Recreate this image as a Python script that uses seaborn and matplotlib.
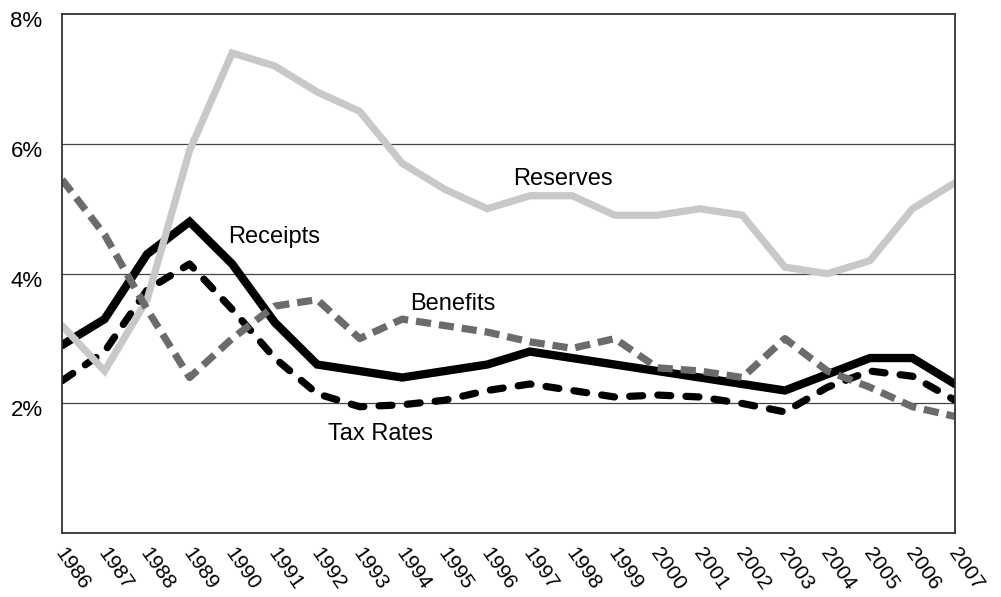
import matplotlib
matplotlib.use("Agg")
import matplotlib.pyplot as plt
import matplotlib.transforms as mtransforms
import seaborn as sns

years = list(range(1986, 2008))
reserves = [3.2, 2.5, 3.6, 5.9, 7.4, 7.2, 6.8, 6.5, 5.7, 5.3, 5.0,
            5.2, 5.2, 4.9, 4.9, 5.0, 4.9, 4.1, 4.0, 4.2, 5.0, 5.4]
receipts = [2.9, 3.3, 4.3, 4.8, 4.15, 3.25, 2.6, 2.5, 2.4, 2.5, 2.6,
            2.8, 2.7, 2.6, 2.5, 2.4, 2.3, 2.2, 2.45, 2.7, 2.7, 2.3]
benefits = [5.45, 4.6, 3.45, 2.4, 3.0, 3.5, 3.6, 3.0, 3.3, 3.2, 3.1,
            2.95, 2.85, 3.0, 2.55, 2.5, 2.4, 3.0, 2.5, 2.25, 1.95, 1.8]
tax_rates = [2.35, 2.8, 3.75, 4.15, 3.45, 2.7, 2.15, 1.95, 1.98, 2.05, 2.2,
             2.3, 2.2, 2.1, 2.13, 2.1, 2.0, 1.87, 2.25, 2.5, 2.42, 2.05]
y_ticks = [2, 4, 6, 8]
y_tick_labels = ["2%", "4%", "6%", "8%"]


def main():
    sns.set_style("white")
    plt.rcParams["font.family"] = ["Liberation Sans", "DejaVu Sans"]
    plt.rcParams["text.color"] = "black"
    plt.rcParams["xtick.color"] = "black"
    plt.rcParams["ytick.color"] = "black"

    fig = plt.figure(figsize=(10.01, 5.97), dpi=100)
    ax = fig.add_axes([0.062, 0.1067, 0.892, 0.8698])

    for y in y_ticks[:-1]:
        ax.axhline(y, color="#444444", lw=0.9, zorder=1)

    sns.lineplot(x=years, y=receipts, ax=ax, color="black", lw=6.0, zorder=3)
    ax.lines[-1].set_solid_joinstyle("miter")

    sns.lineplot(x=years, y=tax_rates, ax=ax, color="black", lw=5.2, zorder=4)
    ax.lines[-1].set_dashes((1.8, 2.1))
    ax.lines[-1].set_dash_capstyle("round")

    sns.lineplot(x=years, y=reserves, ax=ax, color="#c8c8c8", lw=5.2, zorder=5)
    ax.lines[-1].set_solid_joinstyle("miter")

    sns.lineplot(x=years, y=benefits, ax=ax, color="#6b6b6b", lw=5.2, zorder=6)
    ax.lines[-1].set_dashes((2.1, 1.1))

    label_style = dict(fontsize=17, color="black", ha="left", va="baseline", zorder=7)
    ax.text(1996.6, 5.37, "Reserves", **label_style)
    ax.text(1989.9, 4.48, "Receipts", **label_style)
    ax.text(1994.18, 3.44, "Benefits", **label_style)
    ax.text(1992.26, 1.44, "Tax Rates", **label_style)

    ax.set_xlim(1986, 2007)
    ax.set_ylim(0, 8)
    ax.set_yticks(y_ticks)
    ax.set_yticklabels(y_tick_labels, fontsize=16)
    ax.set_xticks(years)
    ax.set_xticklabels([str(y) for y in years], fontsize=15, rotation=-55,
                       ha="left", va="top", rotation_mode="anchor")
    ax.tick_params(axis="both", length=0)
    ax.tick_params(axis="y", pad=14)
    ax.tick_params(axis="x", pad=8)

    y_off = mtransforms.ScaledTranslation(0, -5 / 100, fig.dpi_scale_trans)
    for lab in ax.get_yticklabels():
        lab.set_transform(lab.get_transform() + y_off)
    x_off = mtransforms.ScaledTranslation(5 / 100, 0, fig.dpi_scale_trans)
    for lab in ax.get_xticklabels():
        lab.set_transform(lab.get_transform() + x_off)

    for spine in ax.spines.values():
        spine.set_color("#333333")
        spine.set_linewidth(1.3)
        spine.set_zorder(8)
    ax.set_xlabel("")
    ax.set_ylabel("")

    fig.savefig("out.png", dpi=100)
    plt.close(fig)


if __name__ == "__main__":
    main()
